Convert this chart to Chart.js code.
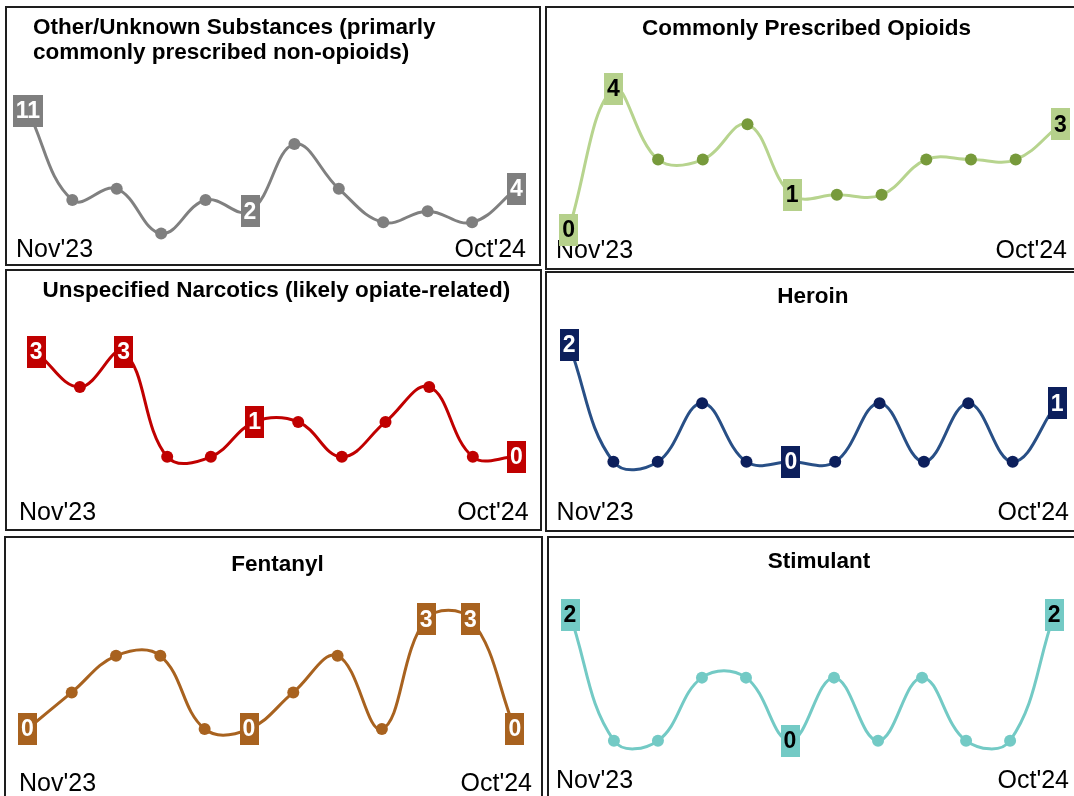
<!DOCTYPE html>
<html>
<head>
<meta charset="utf-8">
<script src="https://cdn.jsdelivr.net/npm/chart.js@4.4.1/dist/chart.umd.min.js"></script>
<style>
html, body { margin:0; padding:0; background:#fff; width:1074px; height:796px; overflow:hidden; position:relative; }
.panel { position:absolute; box-sizing:border-box; border:2px solid #1e1e1e; background:#fff; }
.panel canvas { display:block; }
</style>
</head>
<body>
<div class="panel" style="left:5px;top:6px;width:536px;height:260px"><canvas id="c1" width="532" height="256"></canvas></div>
<div class="panel" style="left:545px;top:6px;width:532px;height:264px"><canvas id="c2" width="528" height="260"></canvas></div>
<div class="panel" style="left:5px;top:269px;width:537px;height:262px"><canvas id="c3" width="533" height="258"></canvas></div>
<div class="panel" style="left:545px;top:271px;width:532px;height:261px"><canvas id="c4" width="528" height="257"></canvas></div>
<div class="panel" style="left:4px;top:536px;width:539px;height:270px"><canvas id="c5" width="535" height="266"></canvas></div>
<div class="panel" style="left:547px;top:536px;width:530px;height:270px"><canvas id="c6" width="526" height="266"></canvas></div>
<script>
// ---- data ----
const months = ["Nov'23","Dec'23","Jan'24","Feb'24","Mar'24","Apr'24","May'24","Jun'24","Jul'24","Aug'24","Sep'24","Oct'24"];
const titleOther = ["Other/Unknown Substances (primarly", "commonly prescribed non-opioids)"];
const titleOpioids = "Commonly Prescribed Opioids";
const titleNarcotics = "Unspecified Narcotics (likely opiate-related)";
const titleHeroin = "Heroin";
const titleFentanyl = "Fentanyl";
const titleStimulant = "Stimulant";
const otherUnknown = [11, 3, 4, 0, 3, 2, 8, 4, 1, 2, 1, 4];
const prescribedOpioids = [0, 4, 2, 2, 3, 1, 1, 1, 2, 2, 2, 3];
const unspecifiedNarcotics = [3, 2, 3, 0, 0, 1, 1, 0, 1, 2, 0, 0];
const heroin = [2, 0, 0, 1, 0, 0, 0, 1, 0, 1, 0, 1];
const fentanyl = [0, 1, 2, 2, 0, 0, 1, 2, 0, 3, 3, 0];
const stimulant = [2, 0, 0, 1, 1, 0, 1, 0, 1, 0, 0, 2];
const MID_LABEL_INDEX = 5;

// ---- panel layout / style ----
const FONT = '"Liberation Sans", Arial, Helvetica, sans-serif';
const panels = [
  {id:'c1', title:titleOther, values:otherUnknown, align:'start', dx:17, lh:1.12, padTop:7, pad:{left:9,right:13,bottom:1}, x:[-0.268,11.214], y:[-0.40,15.04], line:'#808080', point:'#7f7f7f', box:'#7f7f7f', text:'#ffffff'},
  {id:'c2', title:titleOpioids, values:prescribedOpioids, align:'center', dx:-5, lh:1.05, padTop:9.2, pad:{left:9,right:8,bottom:4.5}, x:[-0.284,11.148], y:[-0.24,5.37], line:'#b7d48e', point:'#779a3b', box:'#b5d08b', text:'#000000'},
  {id:'c3', title:titleNarcotics, values:unspecifiedNarcotics, align:'center', dx:2.5, lh:1.05, padTop:8.2, pad:{left:12,right:11.4,bottom:3.2}, x:[-0.394,11.277], y:[-1.26,4.41], line:'#c00000', point:'#c00000', box:'#c00000', text:'#ffffff'},
  {id:'c4', title:titleHeroin, values:heroin, align:'center', dx:0, lh:1.05, padTop:12.2, pad:{left:9.6,right:6,bottom:4.5}, x:[-0.28,11.27], y:[-0.66,2.61], line:'#284f86', point:'#0c1f5c', box:'#0c1f5c', text:'#ffffff'},
  {id:'c5', title:titleFentanyl, values:fentanyl, align:'center', dx:2, lh:1.05, padTop:14.7, pad:{left:13,right:9,bottom:7.5}, x:[-0.19,11.388], y:[-1.16,4.17], line:'#a8621f', point:'#a8621f', box:'#a8621f', text:'#ffffff'},
  {id:'c6', title:titleStimulant, values:stimulant, align:'center', dx:4.5, lh:1.05, padTop:12.2, pad:{left:7,right:2,bottom:10.5}, x:[-0.316,11.338], y:[-0.44,2.645], line:'#73cac5', point:'#73cac5', box:'#73cac5', text:'#000000'}
];

const valueLabels = {
  id: 'valueLabels',
  afterDatasetsDraw(chart, args, opts) {
    const ctx = chart.ctx;
    const meta = chart.getDatasetMeta(0);
    const vals = chart.data.datasets[0].data.map(d => d.y);
    const max = Math.max(...vals);
    ctx.save();
    ctx.font = 'bold 23px ' + FONT;
    ctx.textAlign = 'center';
    ctx.textBaseline = 'middle';
    meta.data.forEach((pt, i) => {
      const v = vals[i];
      if (!(i === 0 || i === vals.length - 1 || i === MID_LABEL_INDEX || v === max)) return;
      const txt = String(v);
      const w = ctx.measureText(txt).width + 6;
      const h = 32;
      ctx.fillStyle = opts.box;
      ctx.fillRect(Math.round(pt.x - w / 2), Math.round(pt.y - h / 2), Math.round(w), h);
      ctx.fillStyle = opts.text;
      ctx.fillText(txt, pt.x, pt.y + 1);
    });
    ctx.restore();
  }
};

const titleShift = {
  id: 'titleShift',
  afterLayout(chart, args, opts) {
    const t = chart.titleBlock;
    if (t && opts.dx) { t.left += opts.dx; t.right += opts.dx; }
  }
};

panels.forEach(p => {
  new Chart(document.getElementById(p.id), {
    type: 'line',
    data: {
      datasets: [{
        data: p.values.map((v, i) => ({x: i, y: v})),
        borderColor: p.line,
        borderWidth: 3,
        pointRadius: 6,
        pointBackgroundColor: p.point,
        pointBorderWidth: 0,
        tension: 0.4,
        clip: false,
        fill: false
      }]
    },
    options: {
      responsive: false,
      animation: false,
      events: [],
      layout: { padding: { top: 0, left: p.pad.left, right: p.pad.right, bottom: p.pad.bottom } },
      plugins: {
        legend: { display: false },
        tooltip: { enabled: false },
        title: {
          display: true,
          text: p.title,
          align: p.align,
          color: '#000',
          font: { family: FONT, size: 22.5, weight: 'bold', lineHeight: p.lh },
          padding: { top: p.padTop, bottom: 0 }
        },
        valueLabels: { box: p.box, text: p.text },
        titleShift: { dx: p.dx }
      },
      scales: {
        x: {
          type: 'linear',
          min: p.x[0], max: p.x[1],
          grid: { display: false, drawTicks: false },
          border: { display: false },
          afterBuildTicks: axis => { axis.ticks = [{value: axis.min}, {value: axis.max}]; },
          ticks: {
            autoSkip: false,
            maxRotation: 0,
            align: 'inner',
            padding: 0,
            color: '#000',
            font: { family: FONT, size: 25, lineHeight: 1 },
            callback: (val, idx) => idx === 0 ? months[0] : months[months.length - 1]
          }
        },
        y: { display: false, min: p.y[0], max: p.y[1] }
      }
    },
    plugins: [valueLabels, titleShift]
  });
});
</script>
</body>
</html>
